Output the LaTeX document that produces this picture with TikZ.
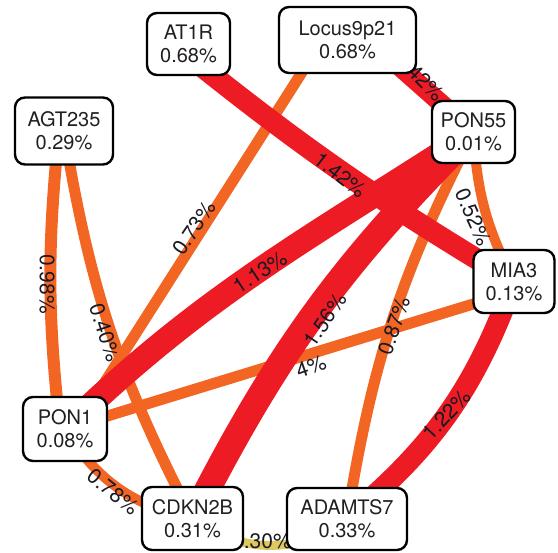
\documentclass[tikz,border=0pt]{standalone}
\usepackage{fontspec}
\setmainfont{TeX Gyre Heros}
\usetikzlibrary{calc}
\definecolor{ered}{RGB}{237,28,36}
\definecolor{eorange}{RGB}{242,101,34}
\definecolor{eyellow}{RGB}{222,200,96}
\definecolor{lbltext}{RGB}{25,25,35}
\definecolor{gtext}{RGB}{35,31,32}
\pgfdeclarelayer{edges}
\pgfsetlayers{edges,main}
\begin{document}
\begin{tikzpicture}[x=1pt,y=-1pt,
  gene/.style={draw=black, line width=2.4pt, rounded corners=10pt, fill=white, align=center,
    inner sep=0pt, minimum height=63pt, font=\fontsize{20}{23}\selectfont, text=gtext},
  redge/.style={draw=ered},
  oedge/.style={draw=eorange},
  yedge/.style={draw=eyellow},
  elbl/.style={font=\fontsize{21}{21}\selectfont, text=lbltext, inner sep=0pt},
]
\useasboundingbox (0,0) rectangle (558,553);

\node[gene, minimum width=83pt, minimum height=62pt] (at1r) at (188.5,44) {AT1R\\0.68\%};
\node[gene, minimum width=137pt, minimum height=66pt] (locus) at (347.5,40) {Locus9p21\\0.68\%};
\node[gene, minimum width=83pt, minimum height=62pt] (pon55) at (473.5,132) {PON55\\0.01\%};
\node[gene, minimum width=98pt, minimum height=67pt] (agt) at (64,131) {AGT235\\0.29\%};
\node[gene, minimum width=81pt, minimum height=63pt] (mia3) at (514,281.5) {MIA3\\0.13\%};
\node[gene, minimum width=84pt, minimum height=64pt] (pon1) at (65,429) {PON1\\0.08\%};
\node[gene, minimum width=101pt, minimum height=63pt] (cdkn) at (192.5,518.5) {CDKN2B\\0.31\%};
\node[gene, minimum width=120pt, minimum height=62pt] (adamts) at (347,519) {ADAMTS7\\0.33\%};

\begin{pgfonlayer}{edges}
% yellow
\draw[yedge, line width=9pt] (cdkn.center) to[bend right=36] (adamts.center);
% orange
\draw[oedge, line width=11pt] (agt.center) to[bend right=9] (cdkn.center);
\node[elbl, rotate=-72] (l040) at (105,333) {0.40\%};
\draw[oedge, line width=12pt] ($(agt.center)+(-5,0)$) to[bend right=6] ($(pon1.center)+(-5,0)$);
\draw[oedge, line width=11pt] ($(locus.center)+(-25,0)$) -- ($(pon1.center)+(10,0)$);
\draw[oedge, line width=10pt] (pon1.center) to[bend right=23] (cdkn.center);
\draw[oedge, line width=11pt] (pon1.center) -- ($(mia3.center)+(0,10)$);
\draw[oedge, line width=10pt] (pon55.center) to[bend right=12] (mia3.center);
\draw[oedge, line width=11pt] (pon55.center) to[bend right=9] (adamts.center);
% red
\draw[redge, line width=21pt] (mia3.center) to[bend left=15] (adamts.center);
\draw[redge, line width=21pt] ($(at1r.center)+(-15,0)$) to[bend right=4] (mia3.center);
\draw[redge, line width=19pt] ($(locus.center)+(22,0)$) -- (pon55.center);
\draw[redge, line width=24pt] (pon55.center) to[out=213,in=44] (pon1.center);
\draw[redge, line width=26pt] (pon55.center) to[bend right=9] (cdkn.center);
% labels
\node[elbl] (l030) at (262,541) {0.30\%};
\node[elbl, rotate=-90] (l098) at (47,284) {0.98\%};
\node[elbl, rotate=56] (l073) at (194,228) {0.73\%};
\node[elbl, rotate=-39] (l078) at (113,492) {0.78\%};
\node[elbl, rotate=19] (l4) at (311,367) {4\%};
\node[elbl, rotate=-66] (l052) at (473,217) {0.52\%};
\node[elbl, rotate=71] (l087) at (394,326) {0.87\%};
\node[elbl, rotate=47] (l122) at (447,415) {1.22\%};
\node[elbl, rotate=-38] (l142a) at (340,175) {1.42\%};
\node[elbl, rotate=-45] (l142b) at (420,77) {1.42\%};
\node[elbl, rotate=33] (l113) at (260,272) {1.13\%};
\node[elbl, rotate=56] (l156) at (325,320) {1.56\%};
\end{pgfonlayer}
\end{tikzpicture}
\end{document}
